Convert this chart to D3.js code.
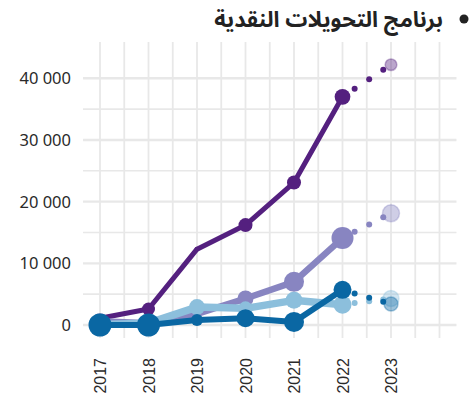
<!DOCTYPE html>
<html>
  <head>
    <meta charset="utf-8">
    <script src="https://cdn.jsdelivr.net/npm/d3@7"></script>
    <style>
      body { margin: 0; background: #fff; }
    </style>
  </head>
  <body>
    <svg width="471" height="401" id="mainsvg"></svg>
    <script>
        // data
        const years = [2017, 2018, 2019, 2020, 2021, 2022];
        const projYear = 2023;
        const seriesNames = ['purple', 'lavender', 'lightblue', 'darkblue'];
        const purpleValues = [1100, 2600, 12300, 16200, 23100, 37000];
        const lavenderValues = [600, 300, 1800, 4300, 7000, 14100];
        const lightblueValues = [100, 300, 2900, 2700, 4000, 3300];
        const darkblueValues = [0, 0, 800, 1100, 500, 5700];
        const projValues = [42200, 18100, 4300, 3400];
        // second variable shown as marker area
        const purpleWeight = [16, 42, 6, 49, 49, 62];
        const lavenderWeight = [64, 36, 16, 64, 100, 121];
        const lightblueWeight = [36, 36, 64, 49, 72, 81];
        const darkblueWeight = [132, 132, 36, 81, 100, 81];
        const projWeight = [34, 72, 64, 49];
        const yTicks = [0, 10000, 20000, 30000, 40000];
        const title = 'برنامج التحويلات النقدية';

        const colors = ['#54207f', '#8885c1', '#8cbfdc', '#0a67a3'];
        const widths = [5, 6.5, 7.5, 6];

        const svg = d3.select('#mainsvg');
        const g = svg.append('g');

        const x = d3.scaleLinear().domain([2017, 2023]).range([100, 391]);
        const y = d3.scaleLinear().domain([0, 40000]).range([325, 78.3]);
        const r = d3.scaleSqrt().domain([0, 132]).range([0, 11.5]);

        const xMin = 2016.65, xMax = 2024.35;
        const yMin = -2100, yMax = 45900;

        // grid
        const grid = g.append('g');
        grid.selectAll('.vg').data(d3.range(2017, 2024.01, 0.5)).join('line')
          .attr('x1', d => x(d)).attr('x2', d => x(d))
          .attr('y1', y(yMax)).attr('y2', y(yMin))
          .attr('stroke', '#e8e8e8').attr('stroke-width', 1.8);
        grid.selectAll('.hg').data(d3.range(0, 40001, 5000)).join('line')
          .attr('x1', x(xMin)).attr('x2', x(xMax))
          .attr('y1', d => y(d)).attr('y2', d => y(d))
          .attr('stroke', '#e8e8e8').attr('stroke-width', d => d % 10000 === 0 ? 2.4 : 1.6);

        // y labels
        g.selectAll('.yl').data(yTicks).join('text')
          .attr('x', 71).attr('y', d => y(d)).attr('dy', '0.36em')
          .attr('text-anchor', 'end')
          .attr('font-family', '"Noto Sans", "Open Sans", sans-serif')
          .attr('font-size', 16.5).attr('fill', '#2a2a2a')
          .text(d => d3.format(',')(d).replace(/,/g, ' '));

        // x labels
        g.selectAll('.xl').data(years.concat([projYear])).join('text')
          .attr('transform', d => `translate(${x(d) + 6}, 358) rotate(-90)`)
          .attr('text-anchor', 'end')
          .attr('font-family', '"Liberation Sans", Arial, sans-serif')
          .attr('font-size', 16).attr('fill', '#2a2a2a')
          .text(d => d);

        const valueSets = [purpleValues, lavenderValues, lightblueValues, darkblueValues];
        const weightSets = [purpleWeight, lavenderWeight, lightblueWeight, darkblueWeight];
        const line = d3.line().x(d => x(d.year)).y(d => y(d.value));
        const dotT = [0.25, 0.55, 0.84];

        seriesNames.forEach((name, i) => {
          const pts = years.map((yr, j) => ({year: yr, value: valueSets[i][j], w: weightSets[i][j]}));
          const sg = g.append('g').attr('class', name);
          sg.append('path').datum(pts)
            .attr('d', line).attr('fill', 'none')
            .attr('stroke', colors[i]).attr('stroke-width', widths[i])
            .attr('stroke-linejoin', 'round').attr('stroke-linecap', 'round');
          sg.selectAll('circle.pt').data(pts).join('circle').attr('class', 'pt')
            .attr('cx', d => x(d.year)).attr('cy', d => y(d.value))
            .attr('r', d => r(d.w)).attr('fill', colors[i]);

          // projection dots
          const last = pts[pts.length - 1];
          const proj = {year: projYear, value: projValues[i], w: projWeight[i]};
          sg.selectAll('circle.dot').data(dotT).join('circle').attr('class', 'dot')
            .attr('cx', t => x(last.year + t * (proj.year - last.year)))
            .attr('cy', t => y(last.value + t * (proj.value - last.value)))
            .attr('r', 3).attr('fill', colors[i]);
          sg.append('circle')
            .attr('cx', x(proj.year)).attr('cy', y(proj.value))
            .attr('r', r(proj.w))
            .attr('fill', colors[i]).attr('fill-opacity', 0.4)
            .attr('stroke', colors[i]).attr('stroke-opacity', 0.35).attr('stroke-width', 1.5);
        });

        // title
        svg.append('text')
          .attr('x', 443).attr('y', 27)
          .attr('text-anchor', 'end')
          .attr('font-family', '"Noto Sans Arabic", "DejaVu Sans", sans-serif')
          .attr('font-weight', 'bold').attr('font-size', 22).attr('fill', '#222')
          .text(title);
        svg.append('circle').attr('cx', 464).attr('cy', 19).attr('r', 4.5).attr('fill', '#222');
    </script>
  </body>
</html>
